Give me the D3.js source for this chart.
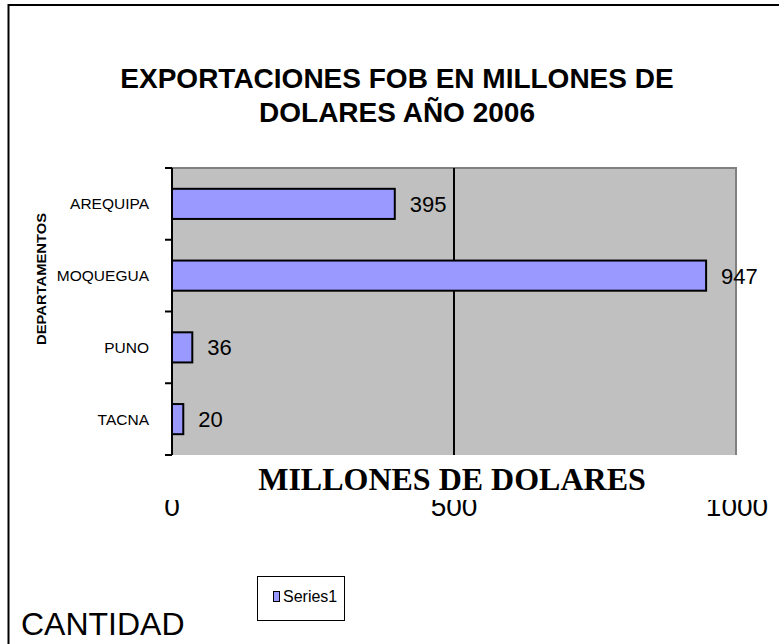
<!DOCTYPE html>
<html>
<head>
<meta charset="utf-8">
<script src="https://cdn.jsdelivr.net/npm/d3@7"></script>
<style>
  html, body { margin: 0; padding: 0; background: #fff; }
  svg { display: block; }
</style>
</head>
<body>
<svg id="chart" width="779" height="644"></svg>
<script>
const categories = ["AREQUIPA", "MOQUEGUA", "PUNO", "TACNA"];
const values = [395, 947, 36, 20];
const xTicks = [0, 500, 1000];
const seriesName = "Series1";
const titleLines = ["EXPORTACIONES FOB EN MILLONES DE", "DOLARES AÑO 2006"];
const xTitle = "MILLONES DE DOLARES";
const yTitle = "DEPARTAMENTOS";
const footText = "CANTIDAD";

const svg = d3.select("#chart");
const plot = { left: 172, right: 736, top: 168, bottom: 455 };
const sans = "Liberation Sans, Arial, sans-serif";

// outer frame
svg.append("rect").attr("x", 8.5).attr("y", 5).attr("width", 800).attr("height", 700)
  .attr("fill", "#fff").attr("stroke", "#000").attr("stroke-width", 2);

const x = d3.scaleLinear().domain([0, 1000]).range([plot.left, plot.right]);
const y = d3.scaleBand().domain(categories).range([plot.top, plot.bottom]).paddingInner(0.58).paddingOuter(0.29);

// plot background
svg.append("rect").attr("x", plot.left).attr("y", plot.top)
  .attr("width", plot.right - plot.left).attr("height", plot.bottom - plot.top)
  .attr("fill", "#c0c0c0");
svg.append("path")
  .attr("d", `M${plot.left},${plot.top}H${plot.right}V${plot.bottom}`)
  .attr("fill", "none").attr("stroke", "#808080").attr("stroke-width", 2);

// gridlines
svg.append("g").selectAll("line").data(xTicks.filter(t => t > 0 && t < 1000)).join("line")
  .attr("x1", d => x(d)).attr("x2", d => x(d))
  .attr("y1", plot.top).attr("y2", plot.bottom)
  .attr("stroke", "#000").attr("stroke-width", 2);

// bars
svg.append("g").selectAll("rect").data(categories).join("rect")
  .attr("x", x(0))
  .attr("y", d => y(d))
  .attr("width", (d, i) => x(values[i]) - x(0))
  .attr("height", y.bandwidth())
  .attr("fill", "#9999ff").attr("stroke", "#000").attr("stroke-width", 2);

// data labels
svg.append("g").selectAll("text").data(categories).join("text")
  .attr("x", (d, i) => x(values[i]) + 15)
  .attr("y", d => y(d) + y.bandwidth() / 2)
  .attr("dy", "0.36em")
  .attr("font-family", sans)
  .attr("font-size", 22)
  .attr("fill", "#000")
  .text((d, i) => values[i]);

// y axis with ticks at band boundaries
const yAxisG = svg.append("g");
yAxisG.append("line").attr("x1", plot.left).attr("x2", plot.left)
  .attr("y1", plot.top).attr("y2", plot.bottom).attr("stroke", "#000").attr("stroke-width", 2);
const boundaries = d3.range(categories.length + 1).map(i => plot.top + (plot.bottom - plot.top) * i / categories.length);
yAxisG.selectAll("line.tick").data(boundaries).join("line").attr("class", "tick")
  .attr("x1", plot.left - 7).attr("x2", plot.left)
  .attr("y1", d => d).attr("y2", d => d)
  .attr("stroke", "#000").attr("stroke-width", 2);
yAxisG.selectAll("text").data(categories).join("text")
  .attr("x", 149)
  .attr("y", d => y(d) + y.bandwidth() / 2)
  .attr("dy", "0.36em")
  .attr("text-anchor", "end")
  .attr("font-family", sans)
  .attr("font-size", 15.5)
  .text(d => d);

// x tick labels: only their lower part shows below the axis title band
const clip = svg.append("clipPath").attr("id", "tickClip");
clip.append("rect").attr("x", 0).attr("y", 500).attr("width", 779).attr("height", 60);
svg.append("g").attr("clip-path", "url(#tickClip)")
  .selectAll("text").data(xTicks).join("text")
  .attr("x", d => x(d) + (d === 1000 ? 1 : 0))
  .attr("y", 516)
  .attr("text-anchor", "middle")
  .attr("font-family", sans)
  .attr("font-size", 28)
  .text(d => d);

// x axis title
svg.append("text")
  .attr("x", 452).attr("y", 490)
  .attr("text-anchor", "middle")
  .attr("font-family", "Liberation Serif, Times New Roman, serif")
  .attr("font-weight", "bold")
  .attr("font-size", 32)
  .text(xTitle);

// y axis title
svg.append("text")
  .attr("transform", "translate(46,279) rotate(-90)")
  .attr("text-anchor", "middle")
  .attr("font-family", sans)
  .attr("font-weight", "bold")
  .attr("font-size", 12.5)
  .attr("textLength", 132)
  .attr("lengthAdjust", "spacingAndGlyphs")
  .text(yTitle);

// chart title
svg.append("g").selectAll("text").data(titleLines).join("text")
  .attr("x", 397)
  .attr("y", (d, i) => 88 + i * 34)
  .attr("text-anchor", "middle")
  .attr("font-family", sans)
  .attr("font-weight", "bold")
  .attr("font-size", 28)
  .text(d => d);

// legend
const lg = svg.append("g");
lg.append("rect").attr("x", 257.5).attr("y", 576.5).attr("width", 87).attr("height", 44)
  .attr("fill", "#fff").attr("stroke", "#000").attr("stroke-width", 1);
lg.append("rect").attr("x", 273.5).attr("y", 591.5).attr("width", 6).attr("height", 10)
  .attr("fill", "#9999ff").attr("stroke", "#000").attr("stroke-width", 1);
lg.append("text").attr("x", 283).attr("y", 602)
  .attr("font-family", sans)
  .attr("font-size", 16)
  .text(seriesName);

// footer text
svg.append("text").attr("x", 21).attr("y", 635)
  .attr("font-family", sans)
  .attr("font-size", 32)
  .text(footText);
</script>
</body>
</html>
